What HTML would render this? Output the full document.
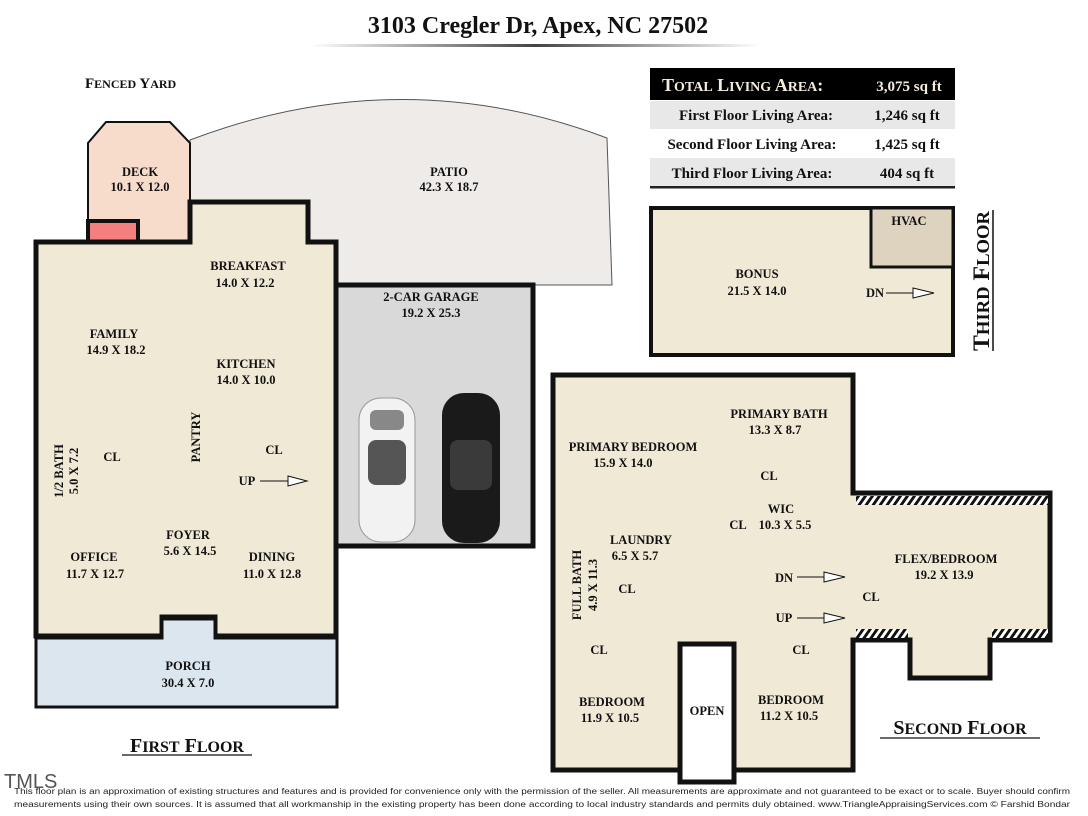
<!DOCTYPE html>
<html><head><meta charset="utf-8"><style>
html,body{margin:0;padding:0;background:#fff;}
svg{display:block;}
text{font-family:"Liberation Serif",serif;font-weight:bold;fill:#111;}
.l{font-size:12.5px;text-anchor:middle;}
.ft{font-family:"Liberation Sans",sans-serif;font-weight:normal;font-size:8.6px;fill:#222;}
</style></head><body>
<svg width="1088" height="816" viewBox="0 0 1088 816" xmlns="http://www.w3.org/2000/svg">
<defs>
<linearGradient id="g" x1="0" x2="1"><stop offset="0" stop-color="#fff"/><stop offset="0.5" stop-color="#444"/><stop offset="1" stop-color="#fff"/></linearGradient>
<pattern id="h" width="7" height="10" patternUnits="userSpaceOnUse" patternTransform="skewX(-35)"><rect width="7" height="10" fill="#fff"/><rect width="3.5" height="10" fill="#111"/></pattern>
</defs>
<text x="538" y="33" style="font-size:24px;text-anchor:middle">3103 Cregler Dr, Apex, NC 27502</text>
<rect x="310" y="44" width="450" height="3" fill="url(#g)"/>
<text x="85" y="88" style="font-size:15px">F<tspan style="font-size:12px">ENCED</tspan> Y<tspan style="font-size:12px">ARD</tspan></text>

<path d="M190,140 Q400,60 607,138 L612,285 L336,285 L336,242 L308,242 L308,202 L190,202 Z" fill="#efebe9" stroke="#555" stroke-width="1"/>
<path d="M88,242 L88,143 L106,122 L170,122 L190,143 L190,242 Z" fill="#f7dccb" stroke="#111" stroke-width="2"/>
<rect x="88" y="221" width="50" height="21" fill="#f37f7f" stroke="#111" stroke-width="4"/>
<rect x="336" y="285" width="197" height="261" fill="#d9d9d9" stroke="#111" stroke-width="5"/>
<path d="M36,242 L190,242 L190,202 L308,202 L308,242 L336,242 L336,636 L215,636 L215,617 L162,617 L162,636 L36,636 Z" fill="#efe9d6" stroke="#111" stroke-width="5"/>
<path d="M36,638 L162,638 L162,619 L215,619 L215,638 L337,638 L337,707 L36,707 Z" fill="#dbe6ef" stroke="#111" stroke-width="3"/>
<g>
<rect x="359" y="398" width="56" height="144" rx="22" fill="#f2f2f2" stroke="#999"/>
<rect x="368" y="440" width="38" height="45" rx="8" fill="#555"/>
<rect x="370" y="410" width="34" height="20" rx="6" fill="#888"/>
<rect x="442" y="393" width="58" height="150" rx="22" fill="#1a1a1a"/>
<rect x="450" y="440" width="42" height="50" rx="8" fill="#3a3a3a"/>
</g>

<text class="l" x="140" y="176">DECK</text><text class="l" x="140" y="191">10.1 X 12.0</text>
<text class="l" x="449" y="176">PATIO</text><text class="l" x="449" y="191">42.3 X 18.7</text>
<text class="l" x="248" y="270">BREAKFAST</text><text class="l" x="245" y="287">14.0 X 12.2</text>
<text class="l" x="431" y="301">2-CAR GARAGE</text><text class="l" x="431" y="317">19.2 X 25.3</text>
<text class="l" x="114" y="338">FAMILY</text><text class="l" x="116" y="354">14.9 X 18.2</text>
<text class="l" x="246" y="368">KITCHEN</text><text class="l" x="246" y="384">14.0 X 10.0</text>
<text class="l" transform="translate(200,437) rotate(-90)">PANTRY</text>
<text class="l" transform="translate(63,471) rotate(-90)">1/2 BATH</text>
<text class="l" transform="translate(78,471) rotate(-90)">5.0 X 7.2</text>
<text class="l" x="112" y="461">CL</text>
<text class="l" x="274" y="454">CL</text>
<text class="l" x="247" y="485">UP</text>
<line x1="260" y1="481" x2="290" y2="481" stroke="#111"/><path d="M288,476 L307,481 L288,486 Z" fill="#fff" stroke="#111"/>
<text class="l" x="188" y="539">FOYER</text><text class="l" x="190" y="555">5.6 X 14.5</text>
<text class="l" x="94" y="561">OFFICE</text><text class="l" x="95" y="578">11.7 X 12.7</text>
<text class="l" x="272" y="561">DINING</text><text class="l" x="272" y="578">11.0 X 12.8</text>
<text class="l" x="188" y="670">PORCH</text><text class="l" x="188" y="687">30.4 X 7.0</text>
<text x="187" y="752" style="font-size:20px;text-anchor:middle">F<tspan style="font-size:16px">IRST</tspan> F<tspan style="font-size:16px">LOOR</tspan></text>
<line x1="122" y1="755" x2="252" y2="755" stroke="#111" stroke-width="1.2"/>

<rect x="650" y="68" width="305" height="32" fill="#000"/>
<text x="662" y="91" style="font-size:18px;fill:#f3ecdc">T<tspan style="font-size:14px">OTAL</tspan> L<tspan style="font-size:14px">IVING</tspan> A<tspan style="font-size:14px">REA</tspan>:</text>
<text x="909" y="91" style="font-size:15px;fill:#f3ecdc;text-anchor:middle">3,075 sq ft</text>
<rect x="650" y="101" width="305" height="28" fill="#e8e8e8"/>
<rect x="650" y="158" width="305" height="28" fill="#e8e8e8"/>
<rect x="650" y="186" width="305" height="2.5" fill="#222"/>
<g style="font-size:15px">
<text x="756" y="120" style="text-anchor:middle">First Floor Living Area:</text><text x="907" y="120" style="text-anchor:middle">1,246 sq ft</text>
<text x="752" y="149" style="text-anchor:middle">Second Floor Living Area:</text><text x="907" y="149" style="text-anchor:middle">1,425 sq ft</text>
<text x="752" y="178" style="text-anchor:middle">Third Floor Living Area:</text><text x="907" y="178" style="text-anchor:middle">404 sq ft</text>
</g>

<rect x="651" y="208" width="302" height="147" fill="#efe9d6" stroke="#111" stroke-width="4"/>
<rect x="871" y="208" width="82" height="59" fill="#ded3bf" stroke="#111" stroke-width="3"/>
<text class="l" x="909" y="225">HVAC</text>
<text class="l" x="757" y="278">BONUS</text><text class="l" x="757" y="295">21.5 X 14.0</text>
<text class="l" x="875" y="297">DN</text>
<line x1="886" y1="293" x2="915" y2="293" stroke="#111"/><path d="M913,288 L934,293 L913,298 Z" fill="#fff" stroke="#111"/>
<text transform="translate(989,351) rotate(-90)" style="font-size:23px" textLength="140" lengthAdjust="spacingAndGlyphs">T<tspan style="font-size:18px">HIRD</tspan> F<tspan style="font-size:18px">LOOR</tspan></text>
<line x1="993" y1="210" x2="993" y2="351" stroke="#111" stroke-width="1.5"/>

<path d="M553,375 L853,375 L853,493 L1050,493 L1050,640 L990,640 L990,678 L910,678 L910,640 L853,640 L853,770 L553,770 Z" fill="#efe9d6" stroke="#111" stroke-width="5"/>
<rect x="856" y="496" width="192" height="9" fill="url(#h)"/>
<rect x="856" y="629" width="52" height="9" fill="url(#h)"/>
<rect x="992" y="629" width="56" height="9" fill="url(#h)"/>
<rect x="680" y="644" width="54" height="138" fill="#fff" stroke="#111" stroke-width="5"/>
<text class="l" x="707" y="715">OPEN</text>
<text class="l" x="779" y="418">PRIMARY BATH</text><text class="l" x="775" y="434">13.3 X 8.7</text>
<text class="l" x="633" y="451">PRIMARY BEDROOM</text><text class="l" x="623" y="467">15.9 X 14.0</text>
<text class="l" x="769" y="480">CL</text>
<text class="l" x="781" y="513">WIC</text><text class="l" x="785" y="529">10.3 X 5.5</text>
<text class="l" x="738" y="529">CL</text>
<text class="l" x="641" y="544">LAUNDRY</text><text class="l" x="635" y="560">6.5 X 5.7</text>
<text class="l" transform="translate(581,585) rotate(-90)">FULL BATH</text>
<text class="l" transform="translate(597,585) rotate(-90)">4.9 X 11.3</text>
<text class="l" x="627" y="593">CL</text>
<text class="l" x="784" y="582">DN</text>
<line x1="797" y1="577" x2="826" y2="577" stroke="#111"/><path d="M824,572 L845,577 L824,582 Z" fill="#fff" stroke="#111"/>
<text class="l" x="946" y="563">FLEX/BEDROOM</text><text class="l" x="944" y="579">19.2 X 13.9</text>
<text class="l" x="871" y="601">CL</text>
<text class="l" x="784" y="622">UP</text>
<line x1="797" y1="618" x2="826" y2="618" stroke="#111"/><path d="M824,613 L845,618 L824,623 Z" fill="#fff" stroke="#111"/>
<text class="l" x="599" y="654">CL</text>
<text class="l" x="801" y="654">CL</text>
<text class="l" x="612" y="706">BEDROOM</text><text class="l" x="610" y="722">11.9 X 10.5</text>
<text class="l" x="791" y="704">BEDROOM</text><text class="l" x="789" y="720">11.2 X 10.5</text>
<text x="960" y="734" style="font-size:20px;text-anchor:middle">S<tspan style="font-size:16px">ECOND</tspan> F<tspan style="font-size:16px">LOOR</tspan></text>
<line x1="880" y1="738" x2="1040" y2="738" stroke="#111" stroke-width="1.2"/>

<text x="4" y="788" style="font-family:'Liberation Sans',sans-serif;font-weight:normal;font-size:20px;fill:#555">TMLS</text>
<text class="ft" x="14" y="794" textLength="1056" lengthAdjust="spacingAndGlyphs">This floor plan is an approximation of existing structures and features and is provided for convenience only with the permission of the seller.  All measurements are approximate and not guaranteed to be exact or to scale.  Buyer should confirm</text>
<text class="ft" x="14" y="807" textLength="1056" lengthAdjust="spacingAndGlyphs">measurements using their own sources.  It is assumed that all workmanship in the existing property has been done according to local industry standards and permits duly obtained.      www.TriangleAppraisingServices.com     © Farshid Bondar</text>
</svg>
</body></html>
